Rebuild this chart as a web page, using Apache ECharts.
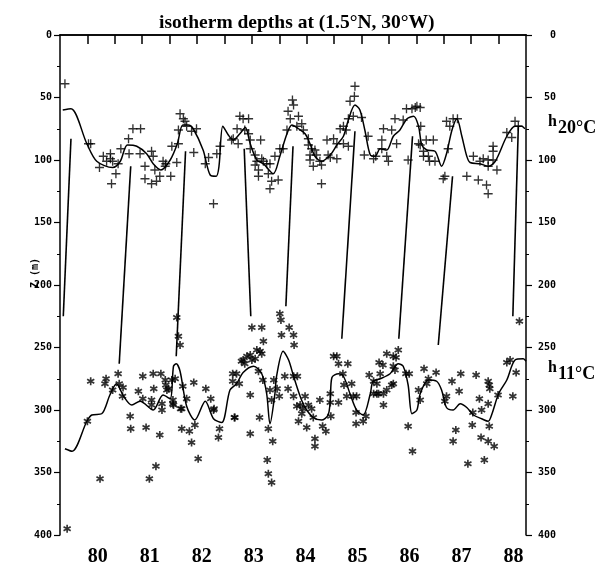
<!DOCTYPE html>
<html>
<head>
<meta charset="utf-8">
<script src="https://cdn.jsdelivr.net/npm/echarts@6/dist/echarts.min.js"></script>
<style>html,body{margin:0;padding:0;background:#fff;}#c{width:605px;height:569px;}</style>
</head>
<body>
<div id="c"></div>
<script>
// ---- data (year, depth in m) ----
const yearLabels = [1980, 1981, 1982, 1983, 1984, 1985, 1986, 1987, 1988];
const bottomTicks = [1981, 1982, 1983, 1984, 1985, 1986, 1987, 1988];
const topTicks = [1980.5, 1981, 1981.5, 1982, 1982.5, 1983, 1983.5, 1984, 1984.5, 1985, 1985.5, 1986, 1986.5, 1987, 1987.5, 1988];

const h20Line = [[1980.05,60],[1980.20,59],[1980.49,87],[1980.67,101],[1980.96,106],[1981.10,101],[1981.23,88],[1981.40,89],[1981.58,95],[1981.70,103],[1981.84,108],[1982.01,100],[1982.14,87],[1982.24,72],[1982.34,72],[1982.43,75],[1982.61,92],[1982.74,112],[1982.85,113],[1982.90,105],[1982.97,73],[1983.07,80],[1983.16,84],[1983.28,79],[1983.38,74],[1983.47,87],[1983.59,100],[1983.71,103],[1983.89,111],[1984.01,97],[1984.14,79],[1984.23,72],[1984.35,75],[1984.47,79],[1984.56,87],[1984.65,97],[1984.77,101],[1984.93,96],[1985.05,88],[1985.17,81],[1985.26,68],[1985.38,56],[1985.47,60],[1985.56,76],[1985.66,96],[1985.75,97],[1985.84,91],[1985.96,92],[1986.08,81],[1986.20,76],[1986.33,67],[1986.45,65],[1986.54,73],[1986.60,88],[1986.69,92],[1986.84,93],[1986.96,105],[1987.05,95],[1987.15,76],[1987.24,67],[1987.33,81],[1987.42,97],[1987.48,102],[1987.66,103],[1987.81,105],[1987.94,101],[1988.15,81],[1988.30,73],[1988.42,73],[1988.48,75]];

const h11Line = [[1980.09,331],[1980.22,333],[1980.49,309],[1980.58,304],[1980.76,303],[1980.91,288],[1981.03,279],[1981.16,289],[1981.31,296],[1981.46,293],[1981.70,300],[1981.88,288],[1982.01,291],[1982.07,265],[1982.12,263],[1982.19,269],[1982.31,297],[1982.46,308],[1982.65,293],[1982.80,307],[1982.95,310],[1983.10,284],[1983.22,279],[1983.34,270],[1983.53,265],[1983.68,271],[1983.77,287],[1983.83,311],[1983.92,287],[1983.95,273],[1984.07,253],[1984.17,260],[1984.26,273],[1984.38,289],[1984.47,298],[1984.62,306],[1984.77,308],[1984.89,304],[1984.93,292],[1984.96,274],[1985.08,271],[1985.17,273],[1985.29,287],[1985.41,300],[1985.53,304],[1985.66,287],[1985.71,277],[1985.84,275],[1986.02,271],[1986.17,263],[1986.26,265],[1986.35,280],[1986.42,303],[1986.51,300],[1986.57,287],[1986.72,276],[1986.87,277],[1986.96,284],[1987.05,298],[1987.17,300],[1987.30,295],[1987.42,298],[1987.54,304],[1987.69,307],[1987.81,309],[1987.88,303],[1988.00,287],[1988.15,276],[1988.30,260],[1988.45,259],[1988.50,261]];

const h20Points = [[1980.09,39],[1980.52,87],[1980.56,87],[1980.72,106],[1980.79,97],[1980.92,95],[1980.92,99],[1980.85,101],[1980.96,101],[1980.94,119],[1981.02,111],[1981.06,103],[1981.11,91],[1981.25,83],[1981.26,95],[1981.33,75],[1981.47,75],[1981.46,95],[1981.55,105],[1981.55,115],[1981.67,93],[1981.70,97],[1981.67,119],[1981.76,117],[1981.73,108],[1981.82,113],[1981.88,101],[1981.93,103],[1981.92,105],[1982.02,113],[1982.04,89],[1982.13,102],[1982.16,87],[1982.19,63],[1982.25,67],[1982.28,69],[1982.16,76],[1982.31,73],[1982.40,77],[1982.49,75],[1982.44,94],[1982.65,103],[1982.71,98],[1982.80,135],[1982.86,95],[1982.92,89],[1983.13,84],[1983.16,83],[1983.23,75],[1983.25,87],[1983.28,65],[1983.34,67],[1983.44,67],[1983.37,76],[1983.44,79],[1983.47,84],[1983.47,91],[1983.66,84],[1983.56,96],[1983.59,101],[1983.68,99],[1983.71,101],[1983.56,104],[1983.62,108],[1983.62,113],[1983.77,103],[1983.83,103],[1983.80,111],[1983.86,117],[1983.98,116],[1983.83,123],[1983.92,97],[1984.01,91],[1984.07,91],[1984.14,76],[1984.16,61],[1984.24,52],[1984.26,56],[1984.20,67],[1984.35,65],[1984.32,73],[1984.41,71],[1984.44,76],[1984.53,83],[1984.53,88],[1984.59,91],[1984.56,96],[1984.65,92],[1984.56,100],[1984.68,96],[1984.62,105],[1984.74,101],[1984.77,104],[1984.77,119],[1984.87,84],[1984.99,83],[1984.89,96],[1984.93,98],[1985.05,99],[1985.05,87],[1985.11,75],[1985.17,73],[1985.22,76],[1985.17,87],[1985.26,89],[1985.26,67],[1985.35,65],[1985.29,53],[1985.37,49],[1985.38,41],[1985.50,66],[1985.62,81],[1985.55,96],[1985.72,99],[1985.76,97],[1985.87,91],[1985.90,75],[1985.87,84],[1985.96,97],[1985.99,101],[1986.05,76],[1986.11,67],[1986.14,87],[1986.26,68],[1986.32,59],[1986.42,59],[1986.51,57],[1986.35,100],[1986.54,87],[1986.48,58],[1986.57,58],[1986.58,73],[1986.57,88],[1986.68,84],[1986.81,84],[1986.63,97],[1986.72,97],[1986.63,93],[1986.74,101],[1986.84,101],[1986.99,115],[1987.02,113],[1987.05,69],[1987.11,73],[1987.17,67],[1987.25,67],[1987.08,91],[1987.42,113],[1987.63,116],[1987.78,120],[1987.81,127],[1987.54,97],[1987.66,101],[1987.72,99],[1987.81,100],[1987.81,105],[1987.90,89],[1987.90,93],[1987.90,100],[1987.97,108],[1988.15,78],[1988.24,82],[1988.30,69],[1988.36,73]];

const h11Points = [[1980.13,395],[1980.50,309],[1980.73,355],[1981.28,305],[1981.29,315],[1981.57,314],[1981.63,355],[1981.75,345],[1981.82,320],[1981.67,296],[1981.86,295],[1982.06,295],[1982.20,299],[1982.22,315],[1982.36,317],[1982.40,326],[1982.46,312],[1982.52,339],[1982.80,300],[1982.91,315],[1982.89,322],[1983.18,306],[1982.16,241],[1982.19,248],[1982.13,226],[1980.56,277],[1980.84,275],[1980.82,279],[1980.96,284],[1981.06,271],[1981.08,279],[1981.15,282],[1981.14,289],[1981.43,285],[1981.51,273],[1981.51,291],[1981.67,292],[1981.71,283],[1981.70,271],[1981.84,271],[1981.86,300],[1981.92,276],[1981.93,280],[1981.98,283],[1981.95,284],[1982.04,276],[1982.10,275],[1982.06,292],[1982.07,296],[1982.24,281],[1982.31,291],[1982.22,299],[1982.44,278],[1982.66,283],[1982.75,291],[1982.81,299],[1983.15,271],[1983.15,277],[1983.22,271],[1983.19,306],[1983.50,234],[1983.68,234],[1983.71,245],[1983.59,252],[1983.65,253],[1983.68,255],[1983.34,260],[1983.41,257],[1983.47,256],[1983.37,263],[1983.31,261],[1983.50,260],[1983.56,259],[1984.01,223],[1984.03,228],[1984.04,240],[1984.18,234],[1984.26,240],[1984.27,248],[1983.27,279],[1983.47,288],[1983.62,269],[1983.70,276],[1983.90,276],[1983.83,284],[1983.86,292],[1983.96,283],[1984.10,273],[1984.16,283],[1984.26,273],[1984.33,273],[1984.00,289],[1984.26,289],[1984.38,296],[1984.47,289],[1984.32,297],[1984.43,299],[1984.53,296],[1984.74,292],[1984.59,299],[1984.93,294],[1985.08,294],[1984.93,287],[1983.64,306],[1984.99,257],[1985.05,257],[1985.08,263],[1985.25,263],[1985.16,271],[1985.18,280],[1985.32,279],[1985.23,289],[1985.35,289],[1985.41,289],[1985.64,272],[1985.84,271],[1985.82,262],[1985.89,264],[1985.96,255],[1986.08,257],[1986.13,258],[1986.17,252],[1986.08,265],[1986.11,268],[1986.31,271],[1986.37,271],[1985.72,277],[1985.78,279],[1986.08,279],[1985.81,287],[1985.90,287],[1985.72,287],[1985.96,284],[1985.90,296],[1986.54,284],[1983.47,319],[1983.80,315],[1983.88,325],[1983.78,340],[1983.80,351],[1983.86,358],[1984.41,303],[1984.35,309],[1984.50,314],[1984.62,306],[1984.79,313],[1984.85,317],[1984.65,323],[1984.65,329],[1984.94,305],[1985.40,302],[1985.40,311],[1985.53,309],[1985.58,305],[1985.78,287],[1988.38,229],[1988.15,262],[1988.21,260],[1988.32,270],[1986.64,267],[1986.86,270],[1986.72,275],[1986.69,279],[1987.15,277],[1987.31,271],[1987.59,272],[1987.81,277],[1987.83,280],[1987.84,283],[1987.28,285],[1986.57,292],[1987.02,293],[1987.65,291],[1987.81,295],[1987.99,288],[1988.26,289],[1987.69,300],[1987.53,302],[1986.05,280],[1986.35,313],[1986.43,333],[1987.05,289],[1987.22,316],[1987.17,325],[1987.44,343],[1987.52,312],[1987.83,313],[1987.68,322],[1987.81,325],[1987.92,329],[1987.74,340]];

// slanted connecting lines: from h20 level down to h11 level
const slantTop = [[1980.20,83],[1981.29,105],[1982.29,93],[1983.36,91],[1984.25,89],[1985.38,77],[1986.43,81],[1987.16,113],[1988.36,73]];
const slantBottom = [[1980.06,225],[1981.08,263],[1982.12,257],[1983.48,225],[1984.12,217],[1985.14,243],[1986.18,243],[1986.90,248],[1988.26,225]];

// ---- chart ----
const plusPath = 'path://M4.25,0h1.5v4.25h4.25v1.5h-4.25v4.25h-1.5v-4.25h-4.25v-1.5h4.25z';
const starPath = 'path://M-1,-5L-1,5L1,5L1,-5Z M4.83,-1.63L3.83,-3.37L-4.83,1.63L-3.83,3.37Z M3.83,3.37L4.83,1.63L-3.83,-3.37L-4.83,-1.63Z';
const ink = '#000';
const monoFont = { fontFamily: 'DejaVu Sans Mono', fontWeight: 'bold', fontSize: 10, color: ink };

const chart = echarts.init(document.getElementById('c'), null, { renderer: 'canvas' });
chart.setOption({
  animation: false,
  backgroundColor: '#fff',
  title: {
    text: 'isotherm depths at (1.5°N, 30°W)',
    left: 154, top: 8,
    textStyle: { fontFamily: 'Liberation Serif', fontWeight: 'bold', fontSize: 19.5, color: ink }
  },
  grid: { left: 60, right: 79, top: 35, bottom: 34, containLabel: false, outerBoundsMode: 'none' },
  xAxis: [
    { type: 'value', position: 'bottom', min: 1980, max: 1988.5,
      axisLine: { show: true, lineStyle: { color: ink, width: 1.5 } },
      axisTick: { show: true, inside: false, length: 7, customValues: bottomTicks, lineStyle: { color: ink, width: 1.5 } },
      axisLabel: { show: false }, splitLine: { show: false } },
    { type: 'value', position: 'bottom', min: 1979.275, max: 1988.24,
      axisLine: { show: false }, axisTick: { show: false }, splitLine: { show: false },
      axisLabel: { show: true, customValues: yearLabels, margin: 12,
        formatter: v => String(v).slice(2),
        fontFamily: 'Liberation Serif', fontWeight: 'bold', fontSize: 20, color: ink } },
    { type: 'value', position: 'top', min: 1980, max: 1988.5,
      axisLine: { show: true, lineStyle: { color: ink, width: 1.5 } },
      axisTick: { show: true, inside: true, length: 9, customValues: topTicks, lineStyle: { color: ink, width: 1.5 } },
      axisLabel: { show: false }, splitLine: { show: false } }
  ],
  yAxis: [
    { type: 'value', position: 'left', inverse: true, min: 0, max: 400, interval: 50,
      axisLine: { show: true, lineStyle: { color: ink, width: 1.5 } },
      axisTick: { show: true, inside: false, length: 6, lineStyle: { color: ink, width: 1.2 } },
      minorTick: { show: true, splitNumber: 2, length: 3, lineStyle: { color: ink, width: 1 } },
      axisLabel: Object.assign({ margin: 8 }, monoFont),
      splitLine: { show: false } },
    { type: 'value', position: 'right', inverse: true, min: 0, max: 400, interval: 50,
      axisLine: { show: true, lineStyle: { color: ink, width: 1.5 } },
      axisTick: { show: true, inside: false, length: 6, lineStyle: { color: ink, width: 1.2 } },
      minorTick: { show: true, splitNumber: 2, length: 3, lineStyle: { color: ink, width: 1 } },
      axisLabel: Object.assign({ margin: 30, align: 'right' }, monoFont),
      splitLine: { show: false } }
  ],
  graphic: [
    { type: 'text', left: 30, top: 258, rotation: Math.PI / 2,
      style: { text: 'Z (m)', font: 'bold 10px "DejaVu Sans Mono"', fill: ink } },
    { type: 'text', left: 548, top: 114, style: { text: 'h', font: 'bold 16px "Liberation Serif"', fill: ink } },
    { type: 'text', left: 558, top: 119, style: { text: '20°C', font: 'bold 18px "Liberation Serif"', fill: ink } },
    { type: 'text', left: 548, top: 360, style: { text: 'h', font: 'bold 16px "Liberation Serif"', fill: ink } },
    { type: 'text', left: 558, top: 365, style: { text: '11°C', font: 'bold 18px "Liberation Serif"', fill: ink } }
  ],
  series: [
    { name: 'h20 line', type: 'line', xAxisIndex: 0, yAxisIndex: 0, data: h20Line,
      smooth: 0.3, showSymbol: false, symbol: 'none', lineStyle: { color: ink, width: 1.5 }, z: 3 },
    { name: 'h11 line', type: 'line', xAxisIndex: 0, yAxisIndex: 0, data: h11Line,
      smooth: 0.3, showSymbol: false, symbol: 'none', lineStyle: { color: ink, width: 1.5 }, z: 3 },
    { name: 'h20', type: 'scatter', xAxisIndex: 0, yAxisIndex: 0, data: h20Points,
      symbol: plusPath, symbolSize: 9, itemStyle: { color: ink }, z: 4 },
    { name: 'h11', type: 'scatter', xAxisIndex: 0, yAxisIndex: 0, data: h11Points,
      symbol: starPath, symbolSize: 8, itemStyle: { color: ink }, z: 4 },
    { name: 'slants', type: 'lines', coordinateSystem: 'cartesian2d', xAxisIndex: 0, yAxisIndex: 0,
      data: slantTop.map((p, i) => ({ coords: [p, slantBottom[i]] })),
      lineStyle: { color: ink, width: 1.6, opacity: 1 }, z: 3 }
  ]
});
</script>
</body>
</html>
